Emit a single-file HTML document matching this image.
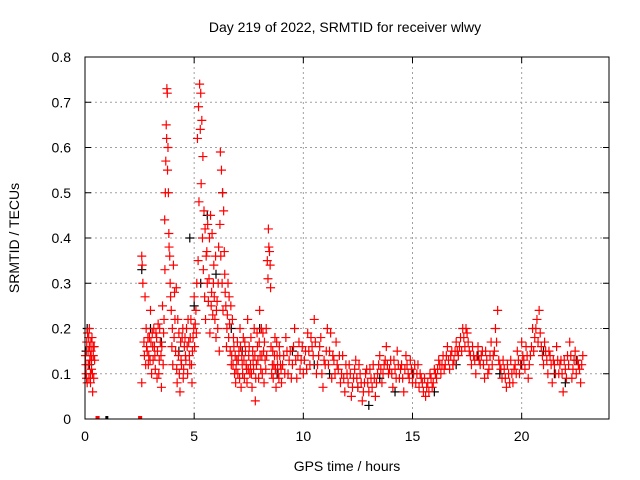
<!DOCTYPE html>
<html><head><meta charset="utf-8"><style>
body{margin:0;background:#fff;}
svg{display:block;font-family:"Liberation Sans",sans-serif;}
</style></head><body>
<svg id="chart" width="640" height="480">
<text x="345" y="32" font-size="14" text-anchor="middle">Day 219 of 2022, SRMTID for receiver wlwy</text>
<text x="347" y="471" font-size="14" text-anchor="middle">GPS time / hours</text>
<text transform="translate(19,238) rotate(-90)" font-size="14" text-anchor="middle">SRMTID / TECUs</text>
<g id="grid"></g><g id="ticks"></g><g id="marks"></g>
<rect x="85" y="57" width="524" height="362" fill="none" stroke="#000" stroke-width="1"/>
</svg>
<script>
const xTicks=[0,5,10,15,20];
const yTicks=[0,0.1,0.2,0.3,0.4,0.5,0.6,0.7,0.8];
const yLabels=["0","0.1","0.2","0.3","0.4","0.5","0.6","0.7","0.8"];
const zeroT=[0.55,0.6,1.0,2.5,2.55];
const blackPts=[[0.05,0.15],[0.1,0.2],[0.2,0.12],[2.6,0.33],[3.0,0.2],[3.5,0.17],[4.3,0.15],[4.8,0.4],[5.0,0.25],[5.3,0.3],[5.6,0.45],[6.0,0.32],[6.3,0.5],[6.7,0.2],[7.2,0.15],[8.0,0.2],[8.8,0.1],[9.5,0.15],[10.5,0.12],[11.2,0.1],[12.5,0.07],[13.0,0.03],[13.5,0.09],[14.2,0.06],[15.0,0.1],[16.0,0.06],[17.0,0.12],[18.0,0.14],[19.0,0.1],[20.0,0.12],[21.0,0.15],[21.5,0.1],[22.0,0.08],[22.5,0.13]];
const redPts=[
[0.02,0.14],[0.05,0.1],[0.08,0.17],[0.1,0.08],[0.12,0.19],[0.15,0.12],[0.18,0.09],[0.2,0.16],[0.22,0.13],[0.25,0.08],[0.28,0.15],[0.3,0.11],[0.32,0.18],[0.35,0.06],[0.38,0.14],[0.4,0.09],[0.42,0.16],[0.2,0.2],[0.3,0.13],[0.25,0.1],
[2.6,0.36],[2.62,0.34],[2.65,0.3],[2.6,0.08],[2.7,0.17],[2.75,0.27],[2.8,0.2],[2.85,0.15],[2.9,0.12],[2.95,0.18],[3.0,0.24],[3.05,0.1],[3.1,0.16],[3.15,0.2],[3.2,0.14],[3.25,0.19],[3.3,0.09],[3.35,0.21],[3.4,0.13],[3.45,0.17],[3.5,0.07],[3.55,0.25],[3.6,0.19],[3.65,0.44],[3.68,0.5],[3.7,0.57],[3.72,0.65],[3.75,0.73],[3.77,0.72],[3.8,0.6],[3.82,0.5],[3.85,0.38],[3.9,0.3],[3.95,0.24],[4.0,0.2],[4.05,0.34],[4.1,0.28],[4.15,0.15],[4.2,0.11],[4.25,0.22],[4.3,0.19],[4.35,0.06],[4.4,0.13],[4.45,0.18],[4.5,0.09],[4.55,0.16],[4.6,0.14],[4.65,0.2],[4.7,0.1],[4.75,0.17],[4.8,0.12],[4.85,0.22],[4.9,0.08],[4.95,0.18],[5.0,0.27],[5.05,0.21],[5.1,0.19],[5.15,0.62],[5.2,0.69],[5.25,0.74],[5.3,0.72],[5.35,0.66],[5.4,0.58],[5.45,0.46],[5.5,0.42],[5.55,0.36],[5.6,0.3],[5.65,0.26],[5.7,0.4],[5.75,0.45],[5.8,0.28],[5.85,0.23],[5.9,0.34],[5.95,0.22],[6.0,0.18],[6.05,0.26],[6.1,0.3],[6.15,0.15],[6.2,0.59],[6.25,0.55],[6.3,0.5],[6.35,0.46],[6.4,0.32],[6.45,0.25],[6.5,0.2],[6.55,0.3],[6.6,0.27],[6.65,0.15],[6.7,0.12],[6.75,0.22],[6.8,0.18],[6.85,0.1],[6.9,0.08],[6.95,0.13],[7.0,0.1],[7.05,0.15],[7.1,0.2],[7.15,0.07],[7.2,0.12],[7.25,0.18],[7.3,0.09],[7.35,0.15],[7.4,0.11],[7.45,0.22],[7.5,0.14],[7.55,0.1],[7.6,0.18],[7.65,0.07],[7.7,0.13],[7.75,0.2],[7.8,0.04],[7.85,0.12],[7.9,0.16],[7.95,0.09],[8.0,0.24],[8.05,0.11],[8.1,0.14],[8.15,0.19],[8.2,0.08],[8.25,0.13],[8.3,0.2],[8.35,0.35],[8.4,0.42],[8.45,0.37],[8.5,0.29],[8.55,0.1],[8.6,0.15],[8.65,0.12],[8.7,0.18],[8.75,0.07],[8.8,0.14],[8.85,0.1],[8.9,0.16],[8.95,0.12],[9.0,0.08],[9.1,0.14],[9.2,0.18],[9.3,0.1],[9.4,0.15],[9.5,0.12],[9.6,0.2],[9.7,0.09],[9.8,0.17],[9.9,0.13],[10.0,0.1],[10.1,0.15],[10.2,0.19],[10.3,0.12],[10.4,0.16],[10.5,0.22],[10.6,0.1],[10.7,0.14],[10.8,0.18],[10.9,0.07],[11.0,0.12],[11.1,0.2],[11.2,0.15],[11.3,0.09],[11.4,0.13],[11.5,0.17],[11.6,0.11],[11.7,0.08],[11.8,0.14],[11.9,0.06],[12.0,0.1],[12.1,0.12],[12.2,0.05],[12.3,0.09],[12.4,0.13],[12.5,0.07],[12.6,0.1],[12.7,0.04],[12.8,0.08],[12.9,0.11],[13.0,0.06],[13.1,0.09],[13.2,0.12],[13.3,0.05],[13.4,0.1],[13.5,0.14],[13.6,0.08],[13.7,0.12],[13.8,0.16],[13.9,0.1],[14.0,0.13],[14.1,0.07],[14.2,0.11],[14.3,0.15],[14.4,0.09],[14.5,0.12],[14.6,0.06],[14.7,0.14],[14.8,0.1],[14.9,0.13],[15.0,0.08],[15.1,0.12],[15.2,0.1],[15.3,0.07],[15.4,0.09],[15.5,0.06],[15.6,0.05],[15.7,0.08],[15.8,0.1],[15.9,0.07],[16.0,0.11],[16.1,0.09],[16.2,0.13],[16.3,0.1],[16.4,0.14],[16.5,0.12],[16.6,0.16],[16.7,0.11],[16.8,0.15],[16.9,0.13],[17.0,0.17],[17.1,0.14],[17.2,0.18],[17.3,0.2],[17.4,0.16],[17.5,0.19],[17.6,0.15],[17.7,0.12],[17.8,0.14],[17.9,0.1],[18.0,0.16],[18.1,0.12],[18.2,0.15],[18.3,0.09],[18.4,0.13],[18.5,0.11],[18.6,0.17],[18.7,0.14],[18.8,0.2],[18.9,0.24],[19.0,0.12],[19.1,0.09],[19.2,0.11],[19.3,0.07],[19.4,0.1],[19.5,0.13],[19.6,0.08],[19.7,0.12],[19.8,0.15],[19.9,0.1],[20.0,0.17],[20.1,0.13],[20.2,0.16],[20.3,0.09],[20.4,0.14],[20.5,0.2],[20.6,0.18],[20.7,0.22],[20.8,0.24],[20.9,0.16],[21.0,0.12],[21.1,0.15],[21.2,0.1],[21.3,0.14],[21.4,0.08],[21.5,0.12],[21.6,0.16],[21.7,0.1],[21.8,0.13],[21.9,0.06],[22.0,0.11],[22.1,0.14],[22.2,0.17],[22.3,0.09],[22.4,0.13],[22.5,0.1],[22.6,0.12],[22.7,0.08],[22.8,0.14]
];
const redPts2=[
[0.04,0.12],[0.14,0.15],[0.24,0.14],[0.34,0.1],[0.44,0.13],[0.07,0.09],[0.17,0.18],[0.27,0.17],[0.37,0.16],
[2.72,0.14],[2.78,0.12],[2.82,0.16],[2.88,0.18],[2.92,0.14],[2.98,0.13],[3.02,0.17],[3.08,0.19],[3.12,0.13],[3.18,0.16],[3.22,0.11],[3.28,0.18],[3.32,0.15],[3.38,0.1],[3.42,0.2],[3.48,0.14],[3.52,0.16],[3.58,0.12],[3.62,0.22],[3.66,0.33],[3.74,0.62],[3.78,0.55],[3.84,0.41],[3.88,0.36],[3.92,0.27],[3.98,0.16],[4.02,0.12],[4.08,0.18],[4.12,0.22],[4.18,0.29],[4.22,0.08],[4.28,0.14],[4.32,0.1],[4.38,0.17],[4.42,0.12],[4.48,0.2],[4.52,0.11],[4.58,0.18],[4.62,0.13],[4.68,0.16],[4.72,0.22],[4.78,0.14],[4.82,0.18],[4.88,0.12],[4.92,0.15],[4.98,0.2],[5.02,0.16],[5.08,0.24],[5.12,0.3],[5.18,0.35],[5.22,0.48],[5.28,0.64],[5.32,0.52],[5.38,0.4],[5.42,0.33],[5.48,0.27],[5.52,0.22],[5.58,0.37],[5.62,0.43],[5.68,0.31],[5.72,0.19],[5.78,0.25],[5.82,0.41],[5.88,0.3],[5.92,0.27],[5.98,0.36],[6.02,0.24],[6.08,0.2],[6.12,0.38],[6.18,0.43],[6.22,0.36],[6.28,0.3],[6.32,0.24],[6.38,0.37],[6.42,0.28],[6.48,0.16],[6.52,0.23],[6.58,0.18],[6.62,0.21],[6.68,0.25],[6.72,0.14],[6.78,0.12],[6.82,0.16],[6.88,0.14],[6.92,0.11],[6.98,0.17],[7.02,0.13],[7.08,0.09],[7.12,0.16],[7.18,0.14],[7.22,0.1],[7.28,0.13],[7.32,0.17],[7.38,0.12],[7.42,0.08],[7.48,0.11],[7.52,0.16],[7.58,0.12],[7.62,0.1],[7.68,0.15],[7.72,0.11],[7.78,0.14],[7.82,0.09],[7.88,0.19],[7.92,0.13],[7.98,0.17],[8.02,0.14],[8.08,0.2],[8.12,0.1],[8.18,0.15],[8.22,0.17],[8.28,0.11],[8.32,0.14],[8.38,0.31],[8.42,0.38],[8.48,0.34],[8.52,0.16],[8.58,0.12],[8.62,0.09],[8.68,0.14],[8.72,0.11],[8.78,0.17],[8.82,0.12],[8.88,0.09],[8.92,0.14],[8.98,0.11],
[9.05,0.12],[9.15,0.1],[9.25,0.15],[9.35,0.13],[9.45,0.09],[9.55,0.16],[9.65,0.13],[9.75,0.14],[9.85,0.11],[9.95,0.16],[10.05,0.13],[10.15,0.11],[10.25,0.15],[10.35,0.18],[10.45,0.14],[10.55,0.17],[10.65,0.12],[10.75,0.16],[10.85,0.1],[10.95,0.13],[11.05,0.15],[11.15,0.12],[11.25,0.19],[11.35,0.14],[11.45,0.1],[11.55,0.12],[11.65,0.14],[11.75,0.1],[11.85,0.09],[11.95,0.12],[12.05,0.08],[12.15,0.1],[12.25,0.07],[12.35,0.11],[12.45,0.09],[12.55,0.12],[12.65,0.08],[12.75,0.06],[12.85,0.1],[12.95,0.08],[13.05,0.11],[13.15,0.07],[13.25,0.09],[13.35,0.08],[13.45,0.12],[13.55,0.11],[13.65,0.1],[13.75,0.13],[13.85,0.12],[13.95,0.11],[14.05,0.1],[14.15,0.13],[14.25,0.09],[14.35,0.12],[14.45,0.11],[14.55,0.09],[14.65,0.11],[14.75,0.12],[14.85,0.09],[14.95,0.11],[15.05,0.1],[15.15,0.08],[15.25,0.12],[15.35,0.1],[15.45,0.08],[15.55,0.09],[15.65,0.07],[15.75,0.06],[15.85,0.09],[15.95,0.08],[16.05,0.1],[16.15,0.11],[16.25,0.12],[16.35,0.12],[16.45,0.11],[16.55,0.14],[16.65,0.13],[16.75,0.14],[16.85,0.12],[16.95,0.15],[17.05,0.15],[17.15,0.16],[17.25,0.15],[17.35,0.18],[17.45,0.2],[17.55,0.17],[17.65,0.14],[17.75,0.16],[17.85,0.13],[17.95,0.14],[18.05,0.13],[18.15,0.14],[18.25,0.12],[18.35,0.15],[18.45,0.1],[18.55,0.14],[18.65,0.12],[18.75,0.15],[18.85,0.17],[18.95,0.13],[19.05,0.11],[19.15,0.13],[19.25,0.09],[19.35,0.12],[19.45,0.08],[19.55,0.1],[19.65,0.11],[19.75,0.1],[19.85,0.13],[19.95,0.12],[20.05,0.14],[20.15,0.11],[20.25,0.14],[20.35,0.12],[20.45,0.16],[20.55,0.15],[20.65,0.2],[20.75,0.17],[20.85,0.19],[20.95,0.14],[21.05,0.17],[21.15,0.13],[21.25,0.15],[21.35,0.12],[21.45,0.13],[21.55,0.1],[21.65,0.13],[21.75,0.12],[21.85,0.1],[21.95,0.13],[22.05,0.09],[22.15,0.12],[22.25,0.14],[22.35,0.11],[22.45,0.15],[22.55,0.13],[22.65,0.11],[22.75,0.12]
];
const NS='http://www.w3.org/2000/svg';
const X0=85,X1=609,Y0=419,Y1=57;
function sx(t){return X0+(t/24)*(X1-X0);}
function sy(v){return Y0-(v/0.8)*(Y0-Y1);}
function mk(tag,attrs,parent){const e=document.createElementNS(NS,tag);for(const k in attrs)e.setAttribute(k,attrs[k]);parent.appendChild(e);return e;}
const grid=document.getElementById('grid'),ticks=document.getElementById('ticks'),marks=document.getElementById('marks');
xTicks.forEach(t=>{
  const x=sx(t);
  if(t>0){const g=mk('line',{x1:x,x2:x,y1:Y1,y2:Y0,stroke:'#a0a0a0','stroke-dasharray':'2,3'},grid);
  
  }
  mk('line',{x1:x,x2:x,y1:Y0,y2:Y0-6,stroke:'#000'},ticks);
  mk('line',{x1:x,x2:x,y1:Y1,y2:Y1+6,stroke:'#000'},ticks);
  const l=mk('text',{x:x,y:Y0+22,'font-size':14,'text-anchor':'middle'},ticks);
  l.textContent=t;
  
  
});
yTicks.forEach((v,i)=>{
  const y=sy(v);
  if(v>0&&v<0.8){const g=mk('line',{x1:X0,x2:X1,y1:y,y2:y,stroke:'#a0a0a0','stroke-dasharray':'2,3'},grid);
  
  }
  mk('line',{x1:X0,x2:X0+6,y1:y,y2:y,stroke:'#000'},ticks);
  mk('line',{x1:X1,x2:X1-6,y1:y,y2:y,stroke:'#000'},ticks);
  const l=mk('text',{x:X0-14,y:y+5,'font-size':14,'text-anchor':'end'},ticks);
  l.textContent=yLabels[i];
  
  
});
function plus(t,v,color,name){
  const x=sx(t),y=sy(v);
  const p=mk('path',{d:`M${x-4.5},${y}h9M${x},${y-4.5}v9`,stroke:color,'stroke-width':1.2,fill:'none'},marks);
  
  
}
blackPts.forEach(p=>plus(p[0],p[1],'#000','black-point'));
redPts.forEach(p=>plus(p[0],p[1],'#ff0000','red-point'));
redPts2.forEach(p=>plus(p[0],p[1],'#ff0000','red-point'));
zeroT.forEach(t=>{
  const r=mk('rect',{x:sx(t)-1.5,y:Y0-3,width:3,height:3,fill:t===1.0?'#000':'#ff0000'},marks);
  
  
});
</script>
</body></html>
